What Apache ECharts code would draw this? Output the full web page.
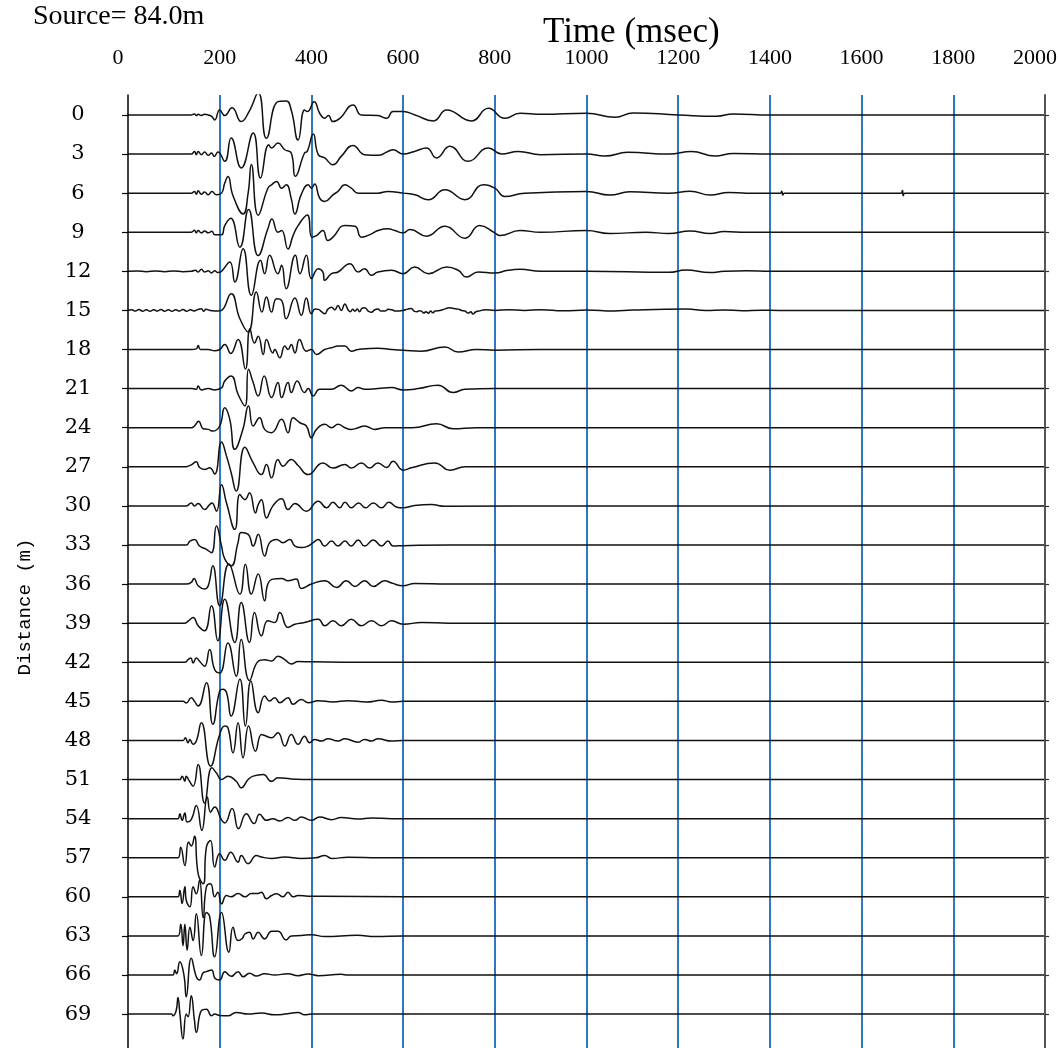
<!DOCTYPE html>
<html>
<head>
<meta charset="utf-8">
<script src="https://cdn.jsdelivr.net/npm/echarts@6/dist/echarts.min.js"></script>
<style>html,body{margin:0;padding:0;background:#fff;}#chart{width:1060px;height:1048px;}</style>
</head>
<body>
<div id="chart"></div>
<script>
// ---- data: distance of each trace (m) and time ticks (msec)
const distances = [0,3,6,9,12,15,18,21,24,27,30,33,36,39,42,45,48,51,54,57,60,63,66,69];
const timeTicks = [0,200,400,600,800,1000,1200,1400,1600,1800,2000];

// ---- traces: [time msec, amplitude (m on the distance axis, + = up)]
const trace00 = [[0,0],[138,0],[145,0.08],[149,-0.05],[153,0.05],[160,-0.05],[167,0.05],[175,0],[183,-0.13],[189,-0.38],[200,0.38],[211,-0.05],[227,0.56],[247,-0.51],[264,0.26],[284,1.69],[302,-1.79],[327,1.02],[345,1.07],[356,0.38],[371,-1.92],[385,0.38],[391,0.26],[406,1.02],[418,0.13],[429,-0.26],[437,-0.05],[447,-0.51],[462,-0.26],[491,0.77],[509,0],[545,-0.05],[564,-0.26],[578,0.26],[600,0.26],[626,0],[666,-0.46],[695,0.38],[749,-0.46],[786,0.51],[822,-0.26],[855,0.13],[902,0.05],[1000,0.13],[1062,-0.18],[1102,0.15],[1200,0],[1284,-0.1],[1320,0.08],[1400,0],[2000,0]];
const trace03 = [[0,0],[138,0],[145,0.2],[149,-0.05],[153,0.2],[160,-0.05],[167,0.15],[175,-0.1],[182,0.08],[188,-0.18],[196,0.15],[211,-0.56],[225,1.23],[247,-1.07],[273,1.61],[289,-1.84],[307,0.72],[313,0.46],[327,0.84],[342,0.33],[356,0.08],[365,-1.71],[385,0.08],[391,0.2],[404,1.53],[415,-0.05],[429,-0.3],[447,-0.82],[465,-0.18],[491,0.66],[516,-0.05],[545,-0.1],[567,0.2],[578,0.33],[600,0],[625,0.2],[651,0.46],[673,-0.3],[702,0.59],[742,-0.56],[786,0.46],[815,0],[851,0.2],[900,-0.05],[1000,0],[1040,-0.15],[1090,0.13],[1180,0],[1229,0.2],[1280,-0.15],[1320,0.05],[1400,0],[2000,0]];
const trace06 = [[0,0],[138,0],[145,0.13],[149,-0.08],[153,0.18],[160,-0.08],[167,0.08],[175,-0.13],[183,0.13],[193,-0.13],[204,0],[211,0.77],[218,1.28],[229,-0.2],[251,-1.6],[262,0],[269,2.2],[284,-1.7],[305,0.38],[313,0.64],[324,0.9],[335,0.38],[345,0.64],[356,-0.4],[364,-1.6],[378,-0.1],[393,0.64],[400,0.38],[407,0.7],[418,-0.38],[429,-0.64],[447,-0.13],[458,0.13],[473,0.64],[487,0.38],[502,0],[545,0],[567,0.13],[600,0],[626,-0.13],[655,-0.5],[691,0.26],[735,-0.5],[775,0.64],[800,0.38],[822,-0.26],[865,0],[1000,0.13],[1051,-0.15],[1094,0.1],[1180,0],[1226,0.15],[1270,-0.15],[1310,0.05],[1350,0],[1423,0],[1426,0.15],[1428,-0.15],[1431,0],[1500,0],[1686,0],[1689,0.2],[1691,-0.2],[1694,0],[1750,0],[2000,0]];
const trace09 = [[0,0],[138,0],[145,0.15],[149,-0.05],[153,0.13],[160,-0.05],[167,0.1],[175,-0.05],[183,0.08],[189,-0.2],[204,-0.2],[211,0.51],[224,1.07],[244,-1.15],[263,1.75],[284,-1.79],[305,0.26],[314,1.02],[327,0],[335,0.13],[349,-1.28],[360,-0.26],[371,0.51],[391,1.33],[401,-0.38],[411,-0.26],[425,0.13],[436,-0.64],[447,-0.38],[473,0.51],[495,0.46],[509,-0.38],[531,-0.13],[545,0.13],[567,0.26],[582,0.13],[600,-0.05],[615,0.2],[651,-0.3],[691,0.46],[735,-0.46],[767,0.51],[800,-0.05],[811,-0.26],[855,0.13],[900,0],[1000,0.13],[1050,-0.1],[1130,0],[1180,-0.1],[1226,0.1],[1270,-0.1],[1300,0.05],[1350,0],[2000,0]];
const trace12 = [[0,0],[20,0.03],[40,-0.03],[60,0.03],[80,-0.03],[100,0.03],[120,-0.03],[138,0],[147,0.08],[153,-0.05],[160,0.15],[167,-0.05],[175,0.05],[182,-0.13],[189,0.05],[196,-0.1],[204,0],[222,0.72],[233,-0.82],[251,1.74],[269,-1.84],[289,0.84],[298,-0.18],[309,1.23],[327,-0.18],[335,0.46],[345,-1.33],[365,1.23],[375,-0.18],[389,1.23],[400,-0.56],[415,0.2],[425,-0.05],[429,-0.69],[444,-0.18],[458,-0.05],[484,0.59],[502,-0.05],[516,0.2],[531,-0.3],[545,-0.05],[575,0.08],[600,-0.18],[625,0.33],[655,-0.18],[695,0.33],[720,0.08],[738,-0.43],[764,-0.05],[800,-0.13],[829,0.08],[855,0.15],[900,0],[1000,0],[1180,-0.08],[1216,0.1],[1270,-0.1],[1300,0],[1350,0.05],[1400,0],[2000,0]];
const trace15 = [[0,0],[8,0.06],[16,-0.05],[24,0.07],[32,-0.06],[40,0.05],[48,-0.07],[56,0.06],[64,-0.05],[72,0.07],[80,-0.06],[88,0.05],[96,-0.07],[104,0.06],[112,-0.05],[120,0.07],[128,-0.06],[136,0.05],[144,-0.04],[152,0.06],[160,0.12],[165,-0.06],[170,0.08],[180,0],[196,-0.05],[204,0],[225,1.28],[244,-0.64],[262,-1.66],[280,1.41],[292,-0.13],[302,1.02],[313,-0.13],[324,0.9],[335,0.77],[345,-0.64],[364,0.95],[378,-0.38],[389,0.95],[400,-0.26],[408,0.1],[415,0.08],[422,-0.1],[429,-0.26],[436,0.1],[444,0.25],[451,0.05],[458,0.38],[465,0],[473,0.5],[480,0.05],[485,-0.1],[490,0.08],[495,-0.05],[500,0.1],[505,-0.1],[510,0.15],[516,0.2],[524,-0.05],[531,-0.15],[538,0.05],[545,0.1],[552,-0.05],[560,-0.05],[568,0.08],[575,0.05],[585,-0.05],[600,0],[610,0.1],[618,0.15],[624,-0.05],[630,-0.1],[636,-0.02],[640,-0.05],[645,-0.2],[650,-0.1],[655,-0.22],[660,-0.05],[665,-0.18],[670,-0.05],[680,0],[690,0.1],[700,0.2],[710,0.15],[720,0.1],[728,0],[735,-0.05],[742,-0.2],[748,-0.1],[752,-0.28],[758,-0.12],[765,-0.05],[780,0.05],[800,0],[830,0.05],[865,0],[900,0.05],[950,-0.03],[1000,0.03],[1060,-0.05],[1100,0.03],[1218,0.1],[1260,0],[1300,0.04],[1340,-0.03],[1380,0.02],[1420,0],[2000,0]];
const trace18 = [[0,0],[138,0],[149,0.05],[153,0.3],[158,0],[175,0],[189,-0.1],[200,0],[211,0.38],[224,-0.3],[240,0.77],[256,-1.5],[266,1.6],[276,0.5],[284,1.02],[295,-0.38],[302,0.77],[316,-0.26],[320,0],[331,-0.64],[342,0.26],[349,0],[356,0.38],[364,-0.26],[374,0.77],[389,-0.13],[400,0],[411,-0.38],[429,0],[444,0.13],[458,0.26],[473,0.26],[487,-0.13],[502,0],[545,0.1],[575,0],[600,-0.05],[640,-0.13],[691,0.2],[720,-0.2],[760,0],[800,-0.05],[900,0],[2000,0]];
const trace21 = [[0,0],[140,0],[149,-0.05],[153,0.2],[160,-0.1],[175,0],[189,-0.1],[204,0.05],[211,0.59],[225,0.97],[240,-0.43],[255,-1.33],[263,1.48],[273,0.46],[284,-0.56],[297,0.97],[313,-0.69],[327,0.46],[335,-0.69],[349,0.46],[356,-0.3],[369,0.59],[385,-0.3],[393,0],[404,-0.56],[418,-0.05],[444,-0.05],[465,0.26],[487,-0.18],[502,0.08],[516,-0.05],[545,0],[575,0.08],[600,-0.1],[633,0],[676,0.26],[709,-0.3],[735,-0.05],[800,0],[2000,0]];
const trace24 = [[0,0],[138,0],[145,0.13],[154,0.5],[164,-0.08],[175,-0.13],[185,-0.26],[200,0.13],[211,1.53],[222,0.64],[233,-1.66],[250,-0.2],[263,1.66],[273,0.13],[287,0.77],[298,-0.13],[313,-0.38],[335,0.64],[349,-0.38],[360,0.77],[375,0.38],[389,0.13],[400,-0.77],[411,-0.13],[429,0.26],[444,0],[458,0.26],[473,0],[487,-0.13],[502,0],[516,0.13],[538,-0.13],[560,0],[620,0],[673,0.3],[709,-0.08],[760,0],[2000,0]];
const trace27 = [[0,0],[124,0],[131,0.05],[138,0.15],[149,0.38],[156,-0.05],[167,-0.2],[178,-0.08],[189,-0.56],[204,1.9],[215,0.8],[225,-0.46],[236,-1.86],[255,1.5],[273,0.3],[291,-0.6],[302,0.18],[313,-0.85],[327,0.56],[338,0.05],[356,0.56],[371,0.1],[393,-0.6],[425,0.3],[447,-0.1],[473,0.18],[487,-0.1],[509,0.3],[527,-0.1],[545,0.3],[564,-0.05],[578,0.43],[600,-0.26],[618,-0.08],[669,0.3],[702,-0.26],[735,0],[2000,0]];
const trace30 = [[0,0],[127,0],[138,0.23],[145,0],[153,0.18],[167,-0.28],[178,0.1],[183,0.23],[193,-0.41],[204,1.63],[215,0.2],[233,-1.8],[244,0.87],[255,0.48],[265,1.0],[278,-0.54],[284,0.1],[291,0.48],[302,-0.92],[316,0],[335,0.54],[349,-0.28],[364,0.18],[389,-0.41],[415,0.36],[433,-0.15],[447,0.28],[462,-0.15],[473,0.28],[487,-0.15],[503,0.23],[518,-0.15],[535,0.23],[553,-0.15],[569,0.28],[585,-0.08],[600,-0.15],[625,0.03],[662,0.1],[691,-0.03],[1000,0],[2000,0]];
const trace33 = [[0,0],[127,0],[135,0.3],[145,0.43],[156,-0.08],[171,-0.33],[182,-0.59],[193,1.46],[204,-0.08],[211,-1.07],[225,-1.6],[240,0.18],[247,0.95],[262,0.82],[273,-0.08],[284,0.82],[298,-0.84],[309,0.18],[324,0.43],[338,0.18],[353,0.43],[364,-0.08],[378,-0.2],[393,-0.08],[404,0.18],[415,0.43],[429,-0.08],[444,0.3],[458,-0.08],[473,0.3],[487,-0.08],[502,0.38],[516,-0.08],[535,0.38],[553,-0.08],[567,0.3],[578,-0.08],[600,-0.05],[700,0],[2000,0]];
const trace36 = [[0,0],[127,0],[138,0.13],[144,0.43],[153,-0.13],[167,-0.38],[175,-0.13],[185,1.4],[200,-1.66],[220,1.55],[244,-0.77],[256,1.53],[269,-0.77],[284,0.77],[298,-1.28],[305,0],[316,0.38],[335,0.43],[349,0.26],[367,0.38],[378,-0.33],[400,0],[429,0.26],[455,-0.26],[476,0.26],[495,-0.18],[516,0.26],[535,-0.18],[560,0.26],[575,0.08],[600,-0.13],[625,0.05],[700,0],[2000,0]];
const trace39 = [[0,0],[124,0],[132,0.18],[142,0.43],[153,-0.2],[167,-0.59],[182,1.33],[196,-1.35],[211,1.84],[233,-1.48],[247,1.58],[265,-1.48],[276,0.82],[291,-0.97],[305,0.18],[320,0.05],[331,0.82],[349,-0.33],[364,-0.08],[385,0.05],[415,0.3],[429,-0.2],[447,0.18],[465,-0.2],[487,0.3],[509,-0.2],[531,0.18],[553,-0.2],[575,0.18],[600,-0.08],[640,0.05],[700,0],[2000,0]];
const trace42 = [[0,0],[124,0],[131,0.2],[137,0.33],[142,-0.05],[149,0.33],[156,0.08],[167,-0.3],[178,0.97],[189,-0.56],[200,-0.82],[218,1.48],[236,-1.07],[247,1.74],[265,-1.4],[284,0.08],[298,0.2],[313,0.1],[327,0.46],[342,0.2],[356,-0.13],[371,0.05],[400,0.03],[500,0],[2000,0]];
const trace45 = [[0,0],[120,0],[127,-0.13],[138,0.28],[145,0],[153,-0.36],[171,1.43],[185,-1.76],[200,0.8],[207,0.92],[215,0.66],[225,-1.13],[244,1.69],[256,-1.89],[268,1.56],[284,-0.87],[298,0.41],[309,0.03],[320,0.28],[331,-0.1],[349,0.28],[360,-0.23],[378,0.15],[393,-0.1],[415,0.05],[447,-0.05],[480,0.05],[520,-0.05],[553,0.08],[575,-0.05],[600,0],[2000,0]];
const trace48 = [[0,0],[120,0],[125,0.2],[131,-0.18],[135,0.08],[142,-0.3],[149,-0.05],[160,1.35],[180,-1.97],[200,0.46],[211,1.1],[218,0.97],[229,-0.95],[240,1.35],[251,-1.33],[263,1.1],[278,-0.82],[291,0.46],[298,0.38],[313,0.2],[327,0.59],[342,-0.43],[356,0.46],[371,-0.3],[385,0.33],[396,-0.18],[407,0.08],[422,-0.05],[436,0.13],[458,-0.05],[473,0.13],[502,-0.13],[516,0.08],[531,-0.05],[545,0.13],[575,-0.05],[600,0],[2000,0]];
const trace51 = [[0,0],[113,0],[118,0.26],[124,-0.13],[127,0.26],[132,0],[142,-0.51],[153,1.15],[167,-1.8],[183,0.9],[193,0.5],[204,0],[218,0.26],[236,-0.13],[247,-0.64],[262,0],[273,0.26],[295,0.38],[313,-0.13],[327,0.13],[356,0.05],[400,0],[2000,0]];
const trace54 = [[0,0],[109,0],[113,0.38],[118,-0.13],[124,0.43],[129,-0.26],[138,-0.08],[149,1.0],[161,-0.9],[173,1.66],[180,0.5],[189,0.9],[204,-0.1],[211,-0.33],[227,0.77],[241,-0.77],[258,0.38],[275,-0.38],[287,0.33],[302,-0.13],[316,0],[331,-0.18],[349,0.08],[364,-0.13],[378,0.13],[400,-0.13],[418,0.13],[444,-0.08],[465,0.08],[502,-0.03],[531,0.05],[575,0],[2000,0]];
const trace57 = [[0,0],[109,0],[115,0.8],[124,-0.6],[132,1.2],[138,0.9],[145,1.64],[153,-1.23],[164,-2.0],[171,0.82],[180,1.33],[189,-0.72],[200,0.3],[211,-0.2],[224,0.43],[240,-0.33],[247,0.18],[262,-0.46],[280,0.18],[291,0.05],[313,-0.05],[342,0.05],[378,-0.05],[410,0],[429,0.18],[444,-0.05],[480,0.03],[550,0],[2000,0]];
const trace60 = [[0,0],[109,0],[113,0.51],[118,-0.51],[124,0.77],[127,-0.26],[135,-0.77],[142,0.77],[149,0.23],[156,1.28],[164,-1.6],[171,0.77],[180,1.0],[189,0],[196,0.36],[204,-0.54],[215,0.1],[225,0],[240,0.26],[255,0],[269,0.26],[284,0.26],[291,0.36],[302,-0.15],[313,0.1],[324,0.23],[338,0],[349,0.36],[360,0],[371,0.1],[393,0.05],[600,0],[2000,0]];
const trace63 = [[0,0],[109,0],[115,0.9],[120,-0.75],[124,0.9],[129,-1.1],[135,0.66],[142,-0.36],[149,1.7],[160,-1.5],[171,1.8],[178,1.5],[189,-1.6],[204,1.8],[220,-1.25],[229,0.66],[240,-0.36],[249,-0.2],[255,0.15],[265,0.28],[273,-0.23],[284,0.28],[298,-0.23],[313,0.36],[327,0.36],[345,-0.31],[356,0],[378,0.03],[400,0.1],[429,-0.05],[500,0.05],[540,-0.05],[600,0],[2000,0]];
const trace66 = [[0,0],[98,0],[102,0.38],[106,0.1],[113,1.02],[122,0],[127,-1.66],[138,1.28],[149,-0.13],[156,-0.38],[164,0.18],[171,0.26],[182,0.38],[190,-0.26],[200,-0.38],[211,0.26],[225,-0.1],[240,0.26],[251,-0.13],[265,0.13],[280,-0.08],[298,0.1],[320,0],[349,0.1],[371,-0.05],[393,0.08],[415,-0.05],[465,0.05],[480,0],[2000,0]];
const trace69 = [[0,0],[95,0],[98,-0.13],[105,0.26],[109,1.28],[113,0.1],[120,-1.9],[127,0],[131,-0.2],[138,1.41],[145,-0.5],[149,-1.4],[160,0.26],[171,0.38],[182,-0.13],[189,0],[200,-0.1],[218,-0.13],[236,0.13],[262,0],[291,0.08],[320,-0.05],[342,0],[371,0.13],[385,-0.05],[400,0],[2000,0]];

const traceList = [trace00,trace03,trace06,trace09,trace12,trace15,trace18,trace21,trace24,trace27,trace30,trace33,trace36,trace39,trace42,trace45,trace48,trace51,trace54,trace57,trace60,trace63,trace66,trace69];

const chart = echarts.init(document.getElementById('chart'), null, {renderer: 'canvas'});
const serif = 'Liberation Serif';

const series = traceList.map((tr, i) => ({
  type: 'line',
  data: tr.map(p => [p[0], distances[i] - p[1]]),
  smooth: 0.5,
  symbol: 'none',
  silent: true,
  lineStyle: {color: '#111', width: 1.5},
  z: 3
}));

chart.setOption({
  animation: false,
  backgroundColor: '#fff',
  title: [
    {text: 'Source= 84.0m', left: 33, top: 3, padding: 0,
     textStyle: {fontFamily: serif, fontSize: 28, fontWeight: 'normal', color: '#000'}},
    {text: 'Time (msec)', left: 543, top: 15, padding: 0,
     textStyle: {fontFamily: serif, fontSize: 35, fontWeight: 'normal', color: '#000'}}
  ],
  graphic: [
    {type: 'text', x: 25, y: 607, rotation: Math.PI / 2,
     style: {text: 'Distance (m)', fontFamily: 'Liberation Mono', fontSize: 19, fill: '#000', align: 'center', verticalAlign: 'middle'}}
  ],
  grid: {left: 128, right: 15, top: 95, bottom: 0, containLabel: false},
  xAxis: {
    type: 'value', position: 'top', min: timeTicks[0], max: timeTicks[timeTicks.length - 1], interval: 200,
    axisLine: {show: false}, axisTick: {show: false},
    axisLabel: {
      color: '#000', fontFamily: serif, fontSize: 22, margin: 26,
      formatter: v => (v === timeTicks[0] || v === timeTicks[timeTicks.length - 1]) ? '{e|' + v + '}' : String(v),
      rich: {e: {fontFamily: serif, fontSize: 22, color: '#000', padding: [0, 20, 0, 0]}}
    },
    splitLine: {show: true, showMinLine: false, showMaxLine: false, lineStyle: {color: '#2f78bd', width: 2}}
  },
  yAxis: [
    {
      type: 'value', inverse: true, min: -1.53, max: 71.6, position: 'left', z: 5,
      axisLine: {show: true, onZero: false, lineStyle: {color: '#000', width: 1.5}},
      axisTick: {show: true, inside: false, length: 6, customValues: distances, lineStyle: {color: '#000', width: 1.2}},
      axisLabel: {show: true, customValues: distances, align: 'center', margin: 50, color: '#000', fontFamily: 'DejaVu Serif', fontSize: 21},
      splitLine: {show: false}
    },
    {
      type: 'value', inverse: true, min: -1.53, max: 71.6, position: 'right', z: 5,
      axisLine: {show: true, onZero: false, lineStyle: {color: '#555', width: 2}},
      axisTick: {show: true, inside: false, length: 4, customValues: distances, lineStyle: {color: '#333', width: 1.2}},
      axisLabel: {show: false},
      splitLine: {show: false}
    }
  ],
  series: series
});
</script>
</body>
</html>
